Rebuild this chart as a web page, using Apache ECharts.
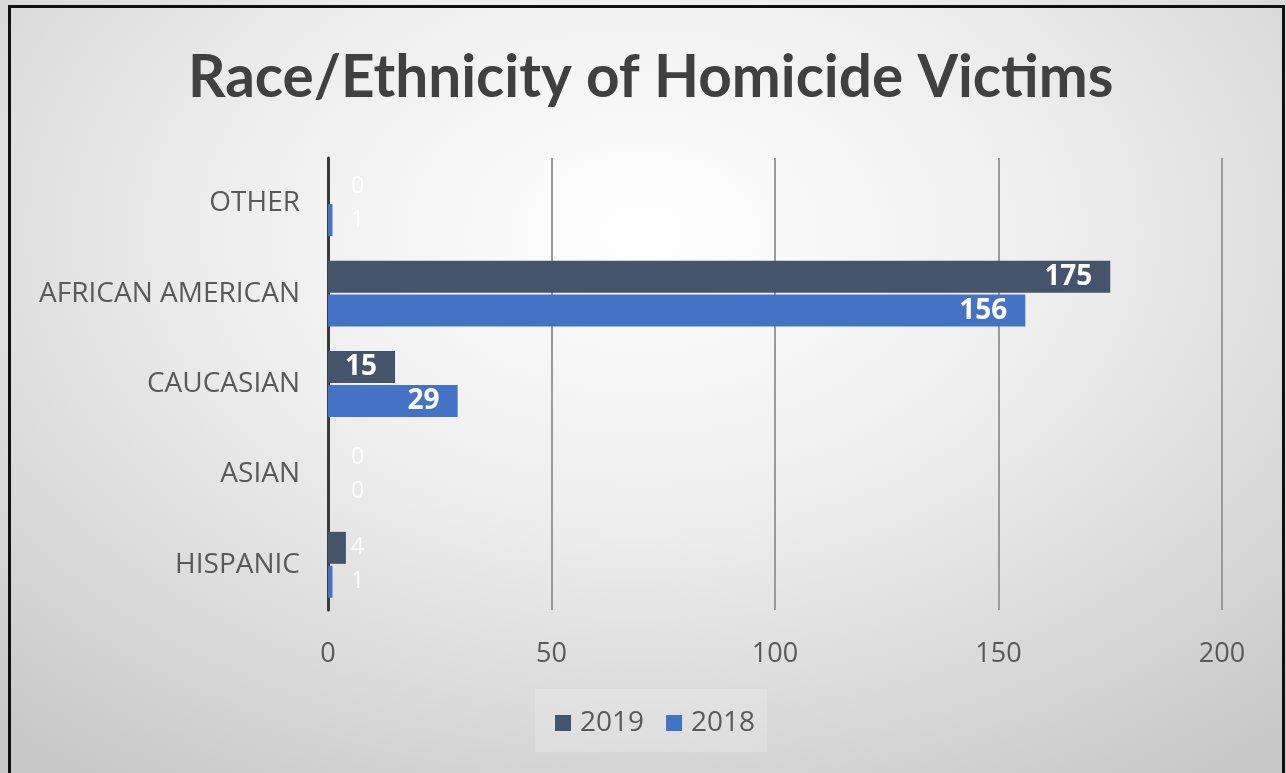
<!DOCTYPE html>
<html>
<head>
<meta charset="utf-8">
<script src="https://cdn.jsdelivr.net/npm/echarts@6/dist/echarts.min.js"></script>
<style>
html,body{margin:0;padding:0;width:1286px;height:773px;overflow:hidden;}
#bg{position:absolute;left:0;top:0;width:1286px;height:773px;
 background:radial-gradient(ellipse 75% 85% at 50% 30%, #ffffff 0%, #ededed 45%, #d6d6d6 80%, #c8c8c8 100%);}
#frame{position:absolute;left:8px;top:5px;width:1277px;height:790px;border:3px solid #111;box-sizing:border-box;}
#legbox{position:absolute;left:535px;top:689px;width:232px;height:63px;background:rgba(255,255,255,0.18);}
#chart{position:absolute;left:0;top:0;width:1286px;height:773px;}
</style>
</head>
<body>
<div id="bg"></div>
<div id="legbox"></div>
<div id="frame"></div>
<div id="chart"></div>
<script>
const titleText = 'Race/Ethnicity of Homicide Victims';
// bottom-to-top order
const categories = ['HISPANIC', 'ASIAN', 'CAUCASIAN', 'AFRICAN AMERICAN', 'OTHER'];
const values2019 = [4, 0, 15, 175, 0];
const values2018 = [1, 0, 29, 156, 1];
const seriesNames = ['2019', '2018'];
const xTicks = [0, 50, 100, 150, 200];

const colors = { '2019': '#44546A', '2018': '#4472C4' };
const TITLE_FONT = 'Lato, "Open Sans", sans-serif';
const FONT = '"Open Sans", Lato, sans-serif';

function makeData(vals) {
  return vals.map(v => {
    if (v >= 10) {
      return { value: v, label: { position: 'insideRight', fontWeight: 'bold', fontSize: 28, distance: 18, fontFamily: FONT } };
    }
    return { value: v, label: { position: 'insideLeft', fontWeight: 'normal', fontSize: 23, color: 'rgba(255,255,255,0.92)', distance: 23, fontFamily: FONT } };
  });
}

const chart = echarts.init(document.getElementById('chart'), null, { renderer: 'canvas' });
chart.setOption({
  backgroundColor: 'transparent',
  animation: false,
  title: {
    text: titleText,
    left: 183,
    top: 44,
    textStyle: { fontFamily: TITLE_FONT, fontSize: 58.5, fontWeight: 'bold', color: '#404040' }
  },
  legend: {
    data: seriesNames,
    left: 550,
    top: 704,
    itemWidth: 16,
    itemHeight: 16,
    itemGap: 22,
    icon: 'rect',
    textStyle: { fontFamily: FONT, fontSize: 28, color: '#595959', padding: [0, 0, 0, 4] }
  },
  grid: { left: 328, right: 64, top: 158, bottom: 163, containLabel: false },
  xAxis: {
    type: 'value',
    min: 0, max: 200, interval: 50,
    axisLine: { show: false },
    axisTick: { show: false },
    splitLine: { show: true, lineStyle: { color: '#9a9a9a', width: 2 } },
    axisLabel: { fontFamily: FONT, fontSize: 27, color: '#595959', margin: 31,
      formatter: v => xTicks.includes(v) ? String(v) : '' }
  },
  yAxis: {
    type: 'category',
    data: categories,
    axisLine: { show: true, lineStyle: { color: '#3a3a3a', width: 3 } },
    axisTick: { show: false },
    axisLabel: { fontFamily: FONT, fontSize: 28, color: '#595959', margin: 28 }
  },
  series: [
    {
      name: '2019', type: 'bar', data: makeData(values2019),
      itemStyle: { color: colors['2019'] },
      barWidth: 32, barGap: '6%',
      label: { show: true, color: '#ffffff' },
      z: 2
    },
    {
      name: '2018', type: 'bar', data: makeData(values2018),
      itemStyle: { color: colors['2018'] },
      barWidth: 32, barGap: '6%',
      label: { show: true, color: '#ffffff' },
      z: 2
    }
  ]
});
</script>
</body>
</html>
